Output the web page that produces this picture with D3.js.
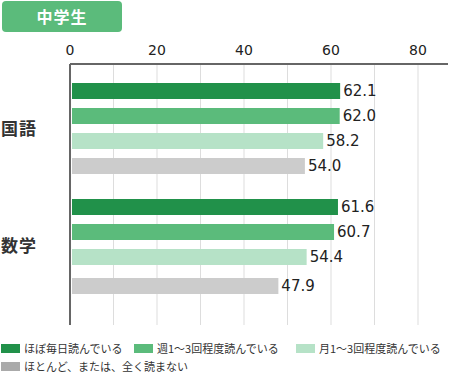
<!DOCTYPE html>
<html><head><meta charset="utf-8">
<script src="https://cdn.jsdelivr.net/npm/d3@7"></script>
<style>body{margin:0;background:#fff}svg{display:block;font-family:"Noto Sans CJK JP","Noto Sans",sans-serif}.num{font-family:"DejaVu Sans",sans-serif}</style>
</head><body><svg id="c" width="450" height="386"></svg>
<script>
const title = "中学生";
const categories = ["国語", "数学"];
const seriesNames = ["ほぼ毎日読んでいる", "週1〜3回程度読んでいる", "月1〜3回程度読んでいる", "ほとんど、または、全く読まない"];
const values = {
  "国語": [62.1, 62.0, 58.2, 54.0],
  "数学": [61.6, 60.7, 54.4, 47.9]
};
const tickValues = [0, 20, 40, 60, 80];
const gridValues = [0, 10, 20, 30, 40, 50, 60, 70, 80];
const barColors = ["#21914a", "#5bbb7b", "#b6e2c7", "#cccccc"];
const legendColors = ["#21914a", "#5bbb7b", "#b6e2c7", "#aaaaaa"];

const svg = d3.select("#c");
const x = d3.scaleLinear().domain([0, 80]).range([70, 418]);
const plotTop = 64, plotBottom = 325;
const g0 = d3.scaleBand().domain(categories).range([71, 303]);
const gi = d3.scaleBand().domain(d3.range(4)).range([0, 91]).paddingInner(0.36);
const barY = (c, i) => g0(c) + 12 + gi(i) + (c === "数学" && i === 3 ? 4 : 0);

// title badge
svg.append("rect").attr("x", 2).attr("y", 1).attr("width", 120).attr("height", 31).attr("rx", 4).attr("fill", "#5bbb7b");
svg.append("text").attr("x", 62).attr("y", 17).attr("dy", "0.36em").attr("text-anchor", "middle")
  .attr("fill", "#fff").attr("font-size", 16).attr("font-weight", "bold").attr("letter-spacing", 1).text(title);

// grid
svg.append("g").selectAll("line").data(gridValues.slice(1)).join("line")
  .attr("x1", d => x(d)).attr("x2", d => x(d)).attr("y1", plotTop).attr("y2", plotBottom)
  .attr("stroke", "#dddddd").attr("stroke-width", 1);

// top axis tick labels
svg.append("g").selectAll("text").data(tickValues).join("text")
  .attr("class", "num")
  .attr("x", d => x(d)).attr("y", 50).attr("dy", "0.35em").attr("text-anchor", "middle")
  .attr("font-size", 14).attr("fill", "#222").text(d => d);

// bars
categories.forEach(c => {
  svg.append("g").selectAll("rect").data(values[c]).join("rect")
    .attr("x", 72).attr("y", (d, i) => barY(c, i))
    .attr("width", d => x(d) - 72).attr("height", gi.bandwidth())
    .attr("fill", (d, i) => barColors[i]);
  svg.append("g").selectAll("text").data(values[c]).join("text")
    .attr("class", "num")
    .attr("x", d => x(d) + 3).attr("y", (d, i) => barY(c, i) + gi.bandwidth() / 2)
    .attr("dy", "0.36em").attr("font-size", 15).attr("fill", "#222")
    .text(d => d.toFixed(1));
  svg.append("text").attr("x", 1).attr("y", g0(c) + 12 + 46 + (c === "数学" ? 1 : 0)).attr("dy", "0.36em")
    .attr("font-size", 17).attr("font-weight", "bold").attr("fill", "#333").attr("letter-spacing", 1).text(c);
});

// axis lines
svg.append("line").attr("x1", 70).attr("x2", 448).attr("y1", plotTop).attr("y2", plotTop).attr("stroke", "#666").attr("stroke-width", 2);
svg.append("line").attr("x1", 70).attr("x2", 70).attr("y1", plotTop).attr("y2", plotBottom).attr("stroke", "#666").attr("stroke-width", 2);

// legend
const legPos = [[1, 344], [134, 344], [296, 344], [1, 362]];
const leg = svg.append("g").selectAll("g").data(seriesNames).join("g")
  .attr("transform", (d, i) => `translate(${legPos[i][0]},${legPos[i][1]})`);
leg.append("rect").attr("width", 19).attr("height", 9).attr("fill", (d, i) => legendColors[i]);
leg.append("text").attr("x", 23).attr("y", 5).attr("dy", "0.36em").attr("font-size", 11).attr("fill", "#333").text(d => d);
</script></body></html>
